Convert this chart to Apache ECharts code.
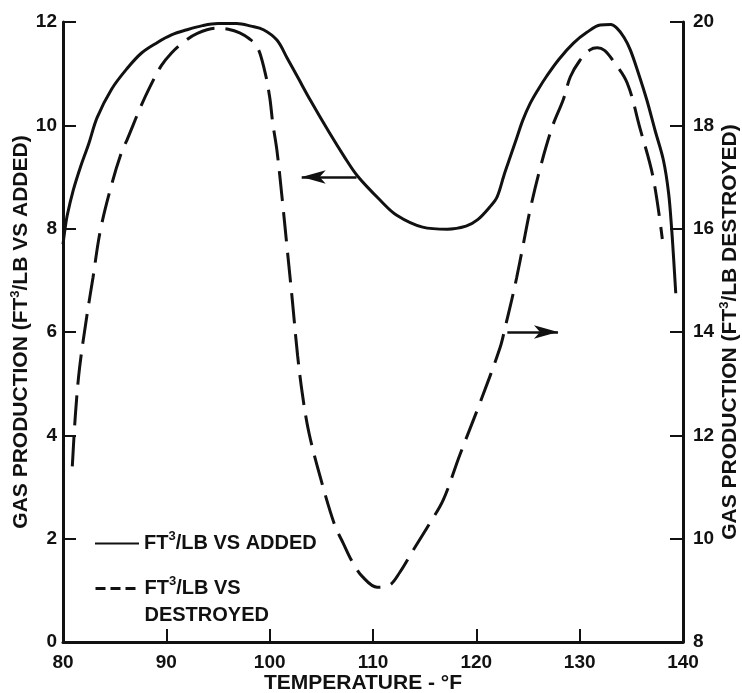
<!DOCTYPE html>
<html>
<head>
<meta charset="utf-8">
<script src="https://cdn.jsdelivr.net/npm/echarts@6/dist/echarts.min.js"></script>
<style>
  html, body { margin: 0; padding: 0; background: #fff; }
  #chart { width: 742px; height: 693px; }
</style>
</head>
<body>
<div id="chart"></div>
<script>
// 数据
const addedName = 'FT³/LB VS ADDED';
const destroyedName = 'FT³/LB VS DESTROYED';

// 温度 °F, 左轴 ft3/lb VS added
const addedTemp = [80.0, 80.2, 80.4, 81.0, 81.7, 82.5, 83.3, 84.7, 86.2, 87.6, 89.1, 90.5, 92.0, 93.5, 95.0, 96.8, 98.2, 99.4, 100.7, 101.7, 102.8, 103.9, 105.8, 107.2, 108.5, 110.7, 112.3, 114.8, 117.2, 119.0, 120.1, 121.3, 122.0, 122.7, 123.3, 123.9, 124.5, 125.2, 126.0, 126.8, 128.0, 129.4, 130.7, 132.0, 133.0, 133.6, 134.3, 134.9, 135.7, 136.5, 137.3, 138.1, 138.6, 138.9, 139.1, 139.3];
const addedVal  = [7.7, 8.0, 8.25, 8.75, 9.2, 9.65, 10.15, 10.7, 11.1, 11.4, 11.6, 11.75, 11.85, 11.93, 11.97, 11.97, 11.92, 11.85, 11.65, 11.3, 10.9, 10.5, 9.85, 9.4, 9.02, 8.55, 8.26, 8.03, 7.99, 8.05, 8.17, 8.42, 8.61, 9.05, 9.4, 9.75, 10.1, 10.42, 10.7, 10.95, 11.28, 11.59, 11.8, 11.94, 11.95, 11.88, 11.7, 11.46, 11.0, 10.49, 9.9, 9.33, 8.7, 8.0, 7.4, 6.75];

// 温度 °F, 右轴 ft3/lb destroyed
const destroyedTemp = [80.9, 81.2, 81.6, 82.3, 82.9, 83.6, 84.7, 85.7, 86.2, 87.5, 88.4, 89.5, 90.5, 91.6, 93.0, 94.9, 96.0, 97.1, 98.0, 98.8, 99.5, 100.0, 100.3, 100.7, 101.2, 101.7, 102.2, 102.7, 103.2, 103.8, 104.9, 106.3, 107.1, 108.0, 109.0, 110.4, 111.6, 112.6, 113.9, 115.5, 116.8, 118.4, 120.3, 122.3, 122.8, 123.4, 123.9, 124.5, 125.2, 126.2, 127.4, 128.4, 129.1, 130.0, 131.0, 131.7, 132.4, 133.2, 134.6, 135.8, 137.1, 138.0];
const destroyedVal  = [11.4, 12.4, 13.3, 14.3, 15.05, 15.95, 16.85, 17.5, 17.72, 18.35, 18.74, 19.15, 19.4, 19.6, 19.78, 19.88, 19.86, 19.79, 19.68, 19.52, 19.07, 18.55, 18.04, 17.52, 16.6, 15.6, 14.6, 13.55, 12.75, 12.05, 11.19, 10.26, 9.92, 9.55, 9.26, 9.06, 9.1, 9.35, 9.78, 10.3, 10.75, 11.62, 12.6, 13.7, 14.1, 14.6, 15.05, 15.65, 16.36, 17.19, 18.0, 18.49, 18.94, 19.25, 19.46, 19.5, 19.45, 19.26, 18.82, 17.97, 17.0, 15.8];

// 坐标轴刻度
const xMin = 80, xMax = 140, xStep = 10;
const leftMin = 0, leftMax = 12, rightMin = 8, rightMax = 20, yStep = 2;

// 注释箭头 [起点, 终点]
const leftArrow = [[108.4, 9.0], [103.1, 9.0]];
const rightArrow = [[123.0, 14.0], [127.9, 14.0]];

const font = 'Liberation Sans, Arial, Helvetica, sans-serif';
const ink = '#111';

// 上标 3 用富文本
const supRich = {
    s: { fontSize: 13, fontWeight: 'bold', fontFamily: font, color: ink, verticalAlign: 'top', lineHeight: 13 },
    e: { fontSize: 20, lineHeight: 27 }
};

const chart = echarts.init(document.getElementById('chart'));

const axisCommon = {
    axisLine: { show: true, lineStyle: { color: ink, width: 3 } },
    axisTick: { show: true, inside: true, length: 13, lineStyle: { color: ink, width: 2 } },
    splitLine: { show: false },
    nameMoveOverlap: false,
    axisLabel: { color: ink, fontSize: 19, fontWeight: 'bold', fontFamily: font },
    nameTextStyle: { color: ink, fontSize: 21, fontWeight: 'bold', fontFamily: font, lineHeight: 24, rich: supRich }
};

const legendText = { color: ink, fontSize: 20, fontWeight: 'bold', fontFamily: font, lineHeight: 27, rich: supRich };

const option = {
    animation: false,
    backgroundColor: '#fff',
    grid: { left: 63, right: 59, top: 22, bottom: 51, outerBoundsMode: 'none', containLabel: false },
    legend: [
        {
            data: [addedName],
            orient: 'vertical',
            left: 94, top: 530, padding: 0,
            itemWidth: 44, itemHeight: 14,
            itemStyle: { color: 'rgba(0,0,0,0)', borderWidth: 0 },
            formatter: () => 'FT{s|3}/LB VS ADDED',
            textStyle: legendText
        },
        {
            data: [destroyedName],
            orient: 'vertical',
            left: 94, top: 548, padding: 0,
            itemWidth: 44, itemHeight: 14,
            itemStyle: { color: 'rgba(0,0,0,0)', borderWidth: 0 },
            lineStyle: { type: [10, 5], width: 3 },
            formatter: () => '{e| }\nFT{s|3}/LB VS\nDESTROYED',
            textStyle: legendText
        }
    ],
    xAxis: Object.assign({}, axisCommon, {
        type: 'value',
        min: xMin, max: xMax, interval: xStep,
        name: 'TEMPERATURE - °F',
        nameLocation: 'middle',
        nameGap: 31,
        nameTextStyle: Object.assign({}, axisCommon.nameTextStyle, { lineHeight: 21, padding: [0, 20, 0, 0] }),
        axisLabel: Object.assign({}, axisCommon.axisLabel, { margin: 11 })
    }),
    yAxis: [
        Object.assign({}, axisCommon, {
            type: 'value',
            position: 'left',
            min: leftMin, max: leftMax, interval: yStep,
            name: 'GAS PRODUCTION (FT{s|3}/LB VS ADDED)',
            nameLocation: 'middle',
            nameRotate: 90,
            nameGap: 30,
            axisLabel: Object.assign({}, axisCommon.axisLabel, { margin: 6 })
        }),
        Object.assign({}, axisCommon, {
            type: 'value',
            position: 'right',
            min: rightMin, max: rightMax, interval: yStep,
            name: 'GAS PRODUCTION (FT{s|3}/LB DESTROYED)',
            nameLocation: 'middle',
            nameRotate: 90,
            nameGap: 35,
            axisLabel: Object.assign({}, axisCommon.axisLabel, { margin: 10 })
        })
    ],
    series: [
        {
            name: addedName,
            type: 'line',
            yAxisIndex: 0,
            data: addedTemp.map((t, i) => [t, addedVal[i]]),
            smooth: 0.35,
            symbol: 'none',
            lineStyle: { color: ink, width: 3 },
            itemStyle: { color: ink },
            markLine: {
                silent: true,
                symbol: ['none', 'arrow'],
                symbolSize: [10, 24],
                label: { show: false },
                lineStyle: { color: ink, width: 2.5, type: 'solid' },
                data: [[{ coord: leftArrow[0] }, { coord: leftArrow[1] }]]
            }
        },
        {
            name: destroyedName,
            type: 'line',
            yAxisIndex: 1,
            data: destroyedTemp.map((t, i) => [t, destroyedVal[i]]),
            smooth: 0.35,
            symbol: 'none',
            lineStyle: { color: ink, width: 3, type: [30, 11] },
            itemStyle: { color: ink },
            markLine: {
                silent: true,
                symbol: ['none', 'arrow'],
                symbolSize: [10, 24],
                label: { show: false },
                lineStyle: { color: ink, width: 2.5, type: 'solid' },
                data: [[{ coord: rightArrow[0] }, { coord: rightArrow[1] }]]
            }
        }
    ]
};

chart.setOption(option);
window.addEventListener('resize', () => chart.resize());
</script>
</body>
</html>
